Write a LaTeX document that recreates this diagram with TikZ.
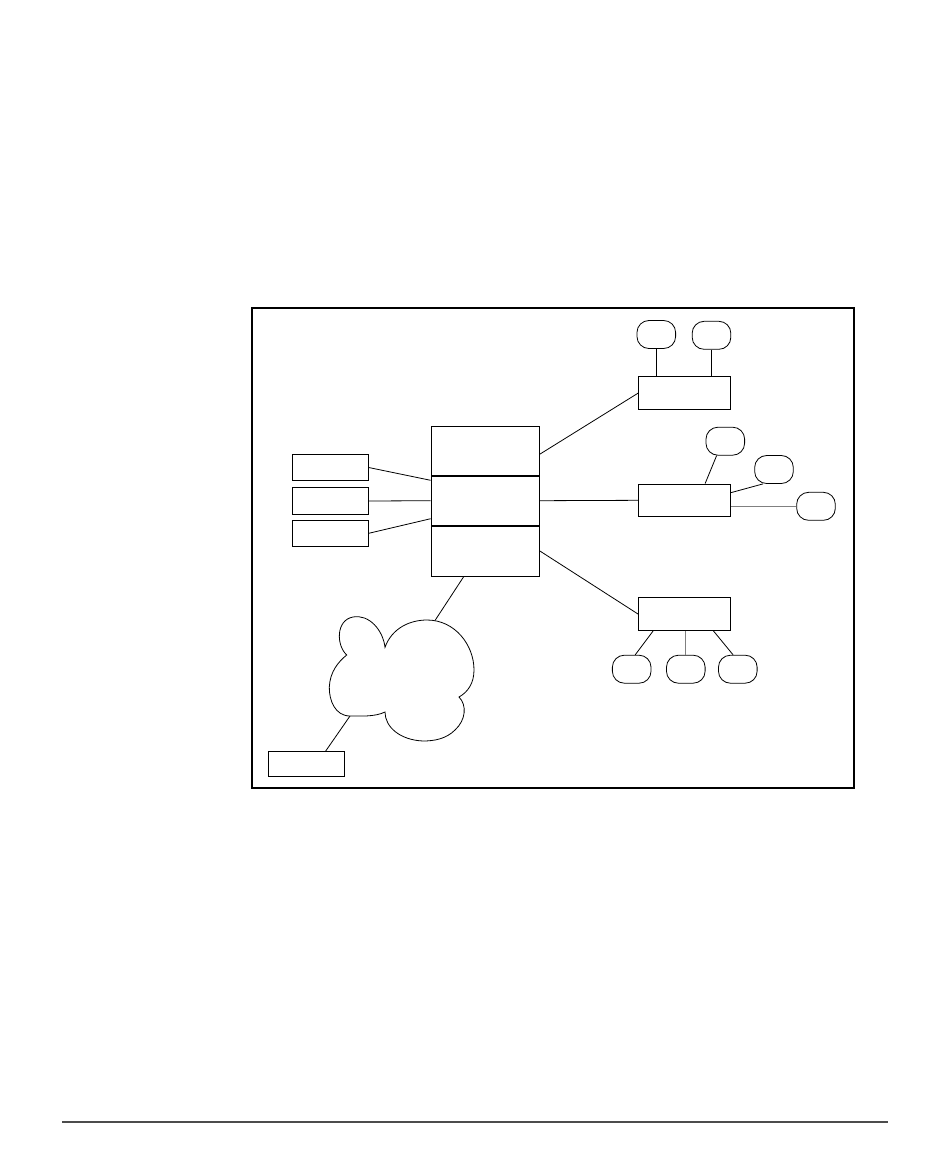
\documentclass[tikz,border=0pt]{standalone}
\usetikzlibrary{calc}
\begin{document}
\begin{tikzpicture}[x=0.75pt,y=-0.75pt, line width=0.6pt,
 frame/.style={draw, line width=1.5pt, minimum width=451.5pt, minimum height=360pt, inner sep=0pt},
 box/.style={draw, minimum width=69pt, minimum height=24.5pt, inner sep=0pt},
 pill/.style={draw, rounded corners=9pt, minimum width=29pt, minimum height=21pt, inner sep=0pt},
 lbox/.style={draw, minimum width=56.7pt, minimum height=19.9pt, inner sep=0pt},
 sbox/.style={draw, minimum width=57pt, minimum height=18.75pt, inner sep=0pt},
 sect/.style={draw, minimum width=81.2pt, minimum height=37.5pt, inner sep=0pt},
 link/.style={draw, line width=0.6pt},
 glink/.style={draw, gray, line width=0.9pt},
 rule/.style={draw, gray!60!black, line width=1pt}]
\useasboundingbox (0,0) rectangle (950,1157);
% frame
\node[frame] (frame) at (553,548) {};
% main stack
\node[sect] (m1) at (485.2,450.9) {};
\node[sect] (m2) at (485.2,500.7) {};
\node[sect] (m3) at (485.2,550.9) {};
% left boxes
\node[lbox] (l1) at (330.5,467.5) {};
\node[lbox] (l2) at (330.5,501) {};
\node[lbox] (l3) at (330.5,533.3) {};
% right boxes
\node[box] (tr) at (684.7,393) {};
\node[box] (mr) at (684.7,500.3) {};
\node[box] (br) at (684.7,614.2) {};
% pills
\node[pill] (p1) at (656.3,334.5) {};
\node[pill] (p2) at (711.5,335.3) {};
\node[pill] (pa) at (725.3,441.2) {};
\node[pill] (pb) at (774,469.5) {};
\node[pill] (pc) at (816,506.3) {};
\node[pill] (pe1) at (631.7,669.2) {};
\node[pill] (pe2) at (685.8,669.2) {};
\node[pill] (pe3) at (737.8,669.2) {};
% small box
\node[sbox] (sb) at (306.3,764.2) {};
% cloud
\draw (346.7,655) .. controls (336,645) and (336,620) .. (353,617)
  .. controls (369,614) and (383,630) .. (385,647.3)
  .. controls (392,628) and (410,620) .. (427,620)
  .. controls (455,620) and (474,645) .. (474,670)
  .. controls (474,683) and (468,692) .. (459,697)
  .. controls (467,705) and (466,720) .. (455,730)
  .. controls (446,739) and (434,741) .. (423,741)
  .. controls (400,740) and (385,727) .. (385,712)
  .. controls (375,717) and (360,716) .. (350,716)
  .. controls (335,716) and (329,700) .. (329.3,687)
  .. controls (330,672) and (338,662) .. (346.7,655) -- cycle;
\coordinate (c1) at (435,620.5);
\coordinate (c2) at (350,716);
% connectors
\path[link] ([yshift=-2.5pt]m1.east) -- (tr.west);
\path[link] (m2.east) -- (mr.west);
\path[link] (m3.east) -- (br.west);
\path[link] (p1.south) -- (p1.south |- tr.north);
\path[link] (p2.south) -- (p2.south |- tr.north);
\path[link] ($(mr.north west)!0.72!(mr.north east)$) -- ($(pa.south west)!0.28!(pa.south east)$);
\path[link] ($(mr.north east)!0.27!(mr.south east)$) -- ($(pb.south west)!0.22!(pb.south east)$);
\path[glink] (mr.east |- pc.west) -- (pc.west);
\path[link] ($(br.south west)!0.16!(br.south east)$) -- ($(pe1.north west)!0.59!(pe1.north east)$);
\path[glink] (pe2.north |- br.south) -- (pe2.north);
\path[link] ($(br.south west)!0.81!(br.south east)$) -- ($(pe3.north west)!0.38!(pe3.north east)$);
\path[link] (l1.east) -- ($(m2.north west)+(0,5)$);
\path[link] (l2.east) -- (m2.west);
\path[link] (l3.east) -- ($(m2.south west)+(0,-7.4)$);
\path[link] ($(m3.south west)!0.305!(m3.south east)$) -- (c1);
\path[link] (c2) -- ($(sb.north west)!0.75!(sb.north east)$);
% bottom rule
\path[rule] (62,1122) -- (888,1122);
\end{tikzpicture}
\end{document}
